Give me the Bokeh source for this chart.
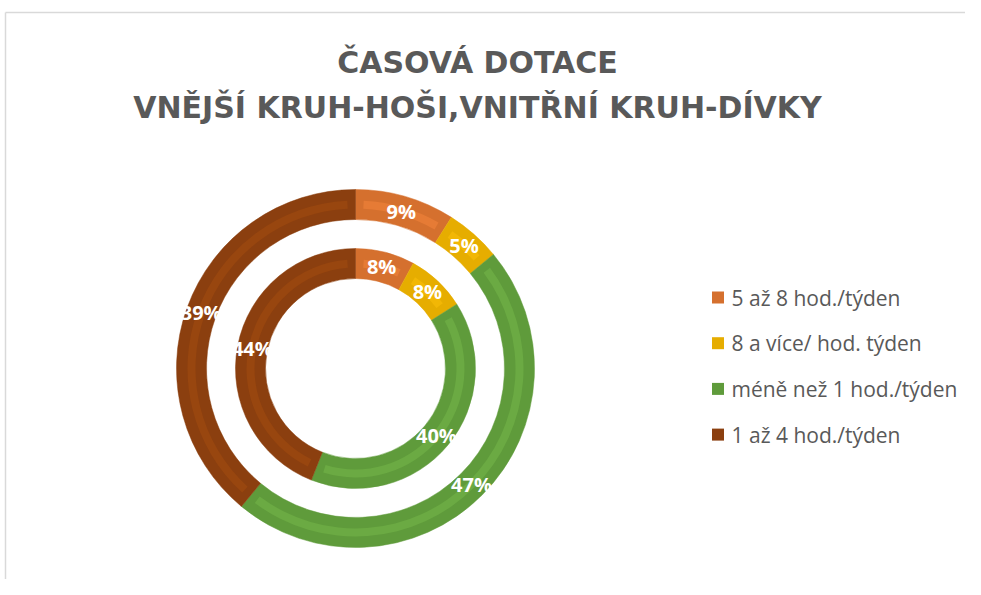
import numpy as np
from bokeh.plotting import figure
from bokeh.models import Range1d
from bokeh.embed import file_html
from bokeh.resources import INLINE
from bokeh.core.properties import value

# ---- data ----
categories = ["5 až 8 hod./týden", "8 a více/ hod. týden", "méně než 1 hod./týden", "1 až 4 hod./týden"]
boys = [9, 5, 47, 39]    # outer ring (hoši)
girls = [8, 8, 40, 44]   # inner ring (dívky)
colors = ["#D5702E", "#E6AD00", "#5F9B3B", "#8B3F0F"]
stripe_colors = ["#E67B35", "#F2B705", "#6BAA43", "#98460F"]
title_lines = ["ČASOVÁ DOTACE", "VNĚJŠÍ KRUH-HOŠI,VNITŘNÍ KRUH-DÍVKY"]

W, H = 965, 579
FONT = "Open Sans"
TITLE_FONT = "DejaVu Sans"


def X(ix):
    return ix


def Y(iy):
    return H - iy


p = figure(width=W, height=H, x_range=Range1d(0, W), y_range=Range1d(0, H),
           x_axis_type=None, y_axis_type=None, output_backend="svg",
           toolbar_location=None, min_border=0)
p.grid.visible = False
p.outline_line_color = None
p.background_fill_color = "white"
p.border_fill_color = "white"

# chart frame (top and left edges visible)
p.line(x=[X(5), X(990)], y=[Y(12), Y(12)], line_color="#D9D9D9", line_width=1.5)
p.line(x=[X(5), X(5)], y=[Y(12), Y(600)], line_color="#D9D9D9", line_width=1.5)

cx, cy = X(355), Y(368)


def ring(vals, r_in, r_out):
    frac = np.array(vals, dtype=float) / sum(vals)
    cum = np.concatenate([[0.0], np.cumsum(frac)])
    start = np.pi / 2 - 2 * np.pi * cum[:-1]
    end = np.pi / 2 - 2 * np.pi * cum[1:]
    p.annular_wedge(x=cx, y=cy, inner_radius=r_in, outer_radius=r_out,
                    start_angle=list(start), end_angle=list(end), direction="clock",
                    fill_color=colors, line_color=colors, line_width=0.5)
    rm = (r_in + r_out) / 2
    inset = 8.0 / rm
    p.annular_wedge(x=cx, y=cy, inner_radius=r_in + 11, outer_radius=r_out - 11,
                    start_angle=list(start - inset), end_angle=list(end + inset),
                    direction="clock", fill_color=stripe_colors, line_color=None)
    mid = (start + end) / 2
    p.text(x=list(cx + rm * np.cos(mid)), y=list(cy + rm * np.sin(mid)),
           text=[f"{v}%" for v in vals], text_align="center", text_baseline="middle",
           text_color="white", text_font=value(FONT), text_font_style="bold",
           text_font_size="20px")


ring(boys, 149, 179)
ring(girls, 90, 120)

# title
p.text(x=[X(477)] * 2, y=[Y(62), Y(107)], text=title_lines, text_align="center",
       text_baseline="middle", text_color="#595959", text_font=value(TITLE_FONT),
       text_font_style="bold", text_font_size="30px")

# legend
ly = [Y(297 + i * 45.7) for i in range(len(categories))]
p.rect(x=[X(717.5)] * len(categories), y=ly, width=12, height=12,
       fill_color=colors, line_color=None)
p.text(x=[X(731)] * len(categories), y=ly, text=categories, text_align="left",
       text_baseline="middle", text_color="#595959", text_font=value(FONT),
       text_font_size="21px")

open("out.html", "w").write(file_html(p, INLINE))
